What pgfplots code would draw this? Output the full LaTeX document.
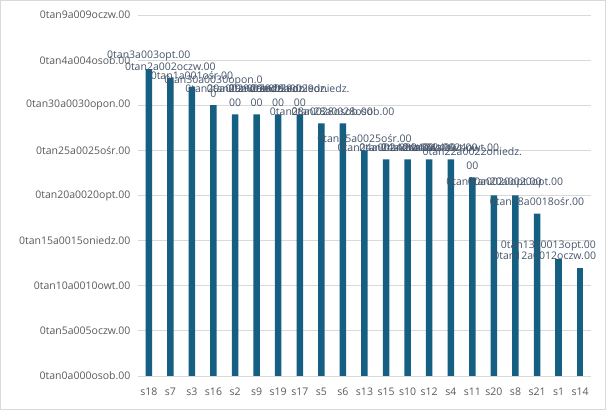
\documentclass[border=0pt]{standalone}
\usepackage{pgfplots}
\pgfplotsset{compat=1.18}
\usepackage{fontspec}
\setmainfont{Open Sans}
\definecolor{barc}{HTML}{156082}
\definecolor{tickc}{HTML}{595959}
\definecolor{labc}{HTML}{44546A}
\definecolor{gridc}{HTML}{D9D9D9}
\begin{document}
\begin{tikzpicture}
\draw[gridc, line width=1pt] (0.5pt,0.5pt) rectangle (605.5pt,409.5pt);
\useasboundingbox (0,0) rectangle (606pt,410pt);
\begin{axis}[
  at={(138pt,34pt)}, anchor=south west,
  scale only axis, width=453pt, height=361pt,
  xmin=-0.5, xmax=20.5, ymin=0, ymax=40,
  ybar, bar width=6.5pt, bar shift=0pt,
  axis x line*=bottom,
  axis y line*=left,
  x axis line style={draw=gridc, line width=0.8pt, -},
  y axis line style={draw=none},
  ymajorgrids, grid style={gridc, line width=0.8pt},
  ytick={0,5,10,15,20,25,30,35,40},
  yticklabels={0tan0a000osob.00,0tan5a005oczw.00,0tan10a0010owt.00,0tan15a0015oniedz.00,0tan20a0020opt.00,0tan25a0025ośr.00,0tan30a0030opon.00,0tan4a004osob.00,0tan9a009oczw.00},
  xtick={0,...,20},
  xticklabels={s18,s7,s3,s16,s2,s9,s19,s17,s5,s6,s13,s15,s10,s12,s4,s11,s20,s8,s21,s1,s14},
  major tick length=0pt,
  tick label style={font=\fontsize{10.5}{12}\selectfont, text=tickc},
  xticklabel style={yshift=-8pt},
  yticklabel style={xshift=-4pt},
  point meta=explicit symbolic,
  nodes near coords,
  every node near coord/.append style={font=\fontsize{10.5}{14}\selectfont, text=labc, align=center, inner sep=1.5pt, yshift=6pt},
]
\addplot[fill=barc, draw=none] coordinates {
(0,34) [0tan3a003opt.00]
(1,33) [0tan2a002oczw.00]
(2,32) [0tan1a001ośr.00]
(3,30) [{0tan30a0030opon.0\\0}]
(4,29) [{0tan29a0029oniedz.\\00}]
(5,29) [{0tan29a0029oniedz.\\00}]
(6,29) [{0tan29a0029oniedz.\\00}]
(7,29) [{0tan29a0029oniedz.\\00}]
(8,28) [0tan28a0028osob.00]
(9,28) [0tan28a0028osob.00]
(10,25) [0tan25a0025ośr.00]
(11,24) [0tan24a0024owt.00]
(12,24) [0tan24a0024owt.00]
(13,24) [0tan24a0024owt.00]
(14,24) [0tan24a0024owt.00]
(15,22) [{0tan22a0022oniedz.\\00}]
(16,20) [0tan20a0020opt.00]
(17,20) [0tan20a0020opt.00]
(18,18) [0tan18a0018ośr.00]
};
\addplot[fill=barc, draw=none, forget plot,
  every node near coord/.append style={anchor=south east, xshift=39pt}] coordinates {
(19,13) [0tan13a0013opt.00]
};
\addplot[fill=barc, draw=none, forget plot,
  every node near coord/.append style={anchor=south east, xshift=17.5pt}] coordinates {
(20,12) [0tan12a0012oczw.00]
};
\end{axis}
\end{tikzpicture}
\end{document}
